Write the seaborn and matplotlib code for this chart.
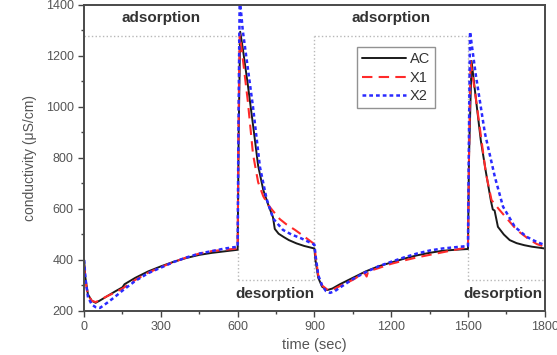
import matplotlib
matplotlib.use("Agg")
import matplotlib.pyplot as plt
from matplotlib.ticker import MultipleLocator
import seaborn as sns
import pandas as pd

# data (time in sec, conductivity in uS/cm)
t_ac = [0, 5, 15, 30, 45, 60, 90, 120, 150, 158, 200, 250, 300, 350, 400, 450, 500, 550, 600,
        604, 610, 620, 640, 660, 680, 700, 720, 738, 745, 760, 780, 800, 830, 860, 900,
        904, 915, 930, 950, 970, 1000, 1050, 1100, 1150, 1200, 1250, 1300, 1350, 1400, 1450, 1500,
        1504, 1514, 1530, 1550, 1570, 1590, 1597, 1604, 1617, 1640, 1663, 1690, 1720, 1750, 1780, 1800]
ac = [400, 330, 265, 240, 232, 240, 258, 276, 293, 305, 330, 355, 375, 393, 408, 420, 428, 434, 440,
      900, 1295, 1230, 1085, 930, 770, 675, 615, 568, 522, 503, 490, 478, 465, 455, 445,
      400, 330, 295, 282, 288, 305, 330, 355, 375, 390, 405, 418, 428, 436, 440, 443,
      800, 1180, 1040, 870, 745, 630, 598, 594, 530, 500, 478, 466, 458, 452, 448, 445]

t_x1 = [0, 5, 15, 30, 45, 60, 90, 120, 150, 200, 250, 300, 350, 400, 450, 500, 550, 600,
        603, 608, 620, 640, 660, 680, 700, 720, 740, 765, 790, 824, 860, 900,
        904, 915, 930, 955, 975, 1000, 1050, 1095, 1104, 1110, 1150, 1200, 1250, 1300, 1350, 1400, 1450, 1500,
        1504, 1510, 1530, 1550, 1570, 1592, 1620, 1650, 1680, 1703, 1740, 1770, 1800]
x1 = [380, 320, 262, 240, 235, 242, 258, 272, 288, 322, 350, 372, 392, 410, 425, 435, 440, 445,
      900, 1285, 1190, 1020, 815, 705, 650, 615, 590, 560, 540, 518, 492, 462,
      420, 340, 300, 280, 285, 298, 322, 350, 335, 355, 368, 385, 398, 410, 420, 430, 440, 450,
      800, 1180, 1040, 890, 740, 635, 600, 565, 530, 508, 480, 462, 452]

t_x2 = [0, 5, 15, 30, 45, 62, 90, 120, 150, 200, 250, 300, 350, 400, 450, 500, 550, 600,
        603, 608, 620, 640, 660, 687, 713, 739, 777, 810, 848, 900,
        904, 915, 930, 945, 961, 980, 1000, 1050, 1100, 1150, 1200, 1250, 1300, 1350, 1400, 1450, 1500,
        1503, 1508, 1530, 1566, 1605, 1637, 1683, 1729, 1770, 1800]
x2 = [400, 330, 255, 225, 215, 212, 232, 255, 280, 318, 348, 370, 392, 410, 425, 435, 445, 452,
      900, 1430, 1300, 1150, 1000, 765, 640, 562, 518, 500, 485, 460,
      420, 340, 300, 278, 271, 278, 292, 325, 352, 375, 393, 410, 425, 437, 445, 450, 455,
      800, 1295, 1130, 898, 726, 609, 530, 491, 470, 459]

# dotted guide boxes marking the adsorption / desorption steps
ads_windows = [(0, 600), (900, 1500)]
des_windows = [(600, 900), (1500, 1800)]
box_top = 1280
box_bottom = 320

sns.set_style("ticks")
plt.rcParams['font.family'] = ['Liberation Sans', 'DejaVu Sans']

df = pd.concat([
    pd.DataFrame({'time': t_ac, 'cond': ac, 'sample': 'AC'}),
    pd.DataFrame({'time': t_x1, 'cond': x1, 'sample': 'X1'}),
    pd.DataFrame({'time': t_x2, 'cond': x2, 'sample': 'X2'}),
])

fig = plt.figure(figsize=(5.57, 3.55), dpi=100)
ax = fig.add_axes([0.151, 0.124, 0.827, 0.862])

grey = '#b8b8b8'
for a, b in ads_windows:
    ax.plot([a, b], [box_top, box_top], ls=':', color=grey, lw=1)
for a, b in des_windows:
    ax.plot([a, b], [box_bottom, box_bottom], ls=':', color=grey, lw=1)
for x in [600, 900, 1500]:
    ax.plot([x, x], [box_bottom, box_top], ls=':', color=grey, lw=1)

styles = {'AC': dict(color='#1a1a1a', ls='-', lw=1.4),
          'X1': dict(color='#ff2a2a', ls=(0, (5, 3)), lw=1.5),
          'X2': dict(color='#2a2aff', ls=(0, (1.5, 1.2)), lw=1.8)}
for name, sub in df.groupby('sample', sort=False):
    st = styles[name]
    sns.lineplot(data=sub, x='time', y='cond', ax=ax, color=st['color'],
                 linestyle=st['ls'], linewidth=st['lw'], label=name, estimator=None, sort=False)

ax.set_xlim(0, 1800)
ax.set_ylim(200, 1400)
ax.xaxis.set_major_locator(MultipleLocator(300))
ax.xaxis.set_minor_locator(MultipleLocator(150))
ax.yaxis.set_major_locator(MultipleLocator(200))
ax.yaxis.set_minor_locator(MultipleLocator(100))
ax.tick_params(which='both', direction='out', top=False, right=False, colors='#444444')
ax.tick_params(which='major', length=4, width=1, labelsize=9, labelcolor='#555555')
ax.tick_params(which='minor', length=2.5, width=1)
for sp in ax.spines.values():
    sp.set_color('#4a4a4a')
    sp.set_linewidth(1.4)

ax.set_xlabel('time (sec)', fontsize=10.5, color='#555555', labelpad=3)
ax.set_ylabel('conductivity (μS/cm)', fontsize=10, color='#555555', labelpad=6)

txt = dict(fontsize=11, fontweight='bold', color='#333333', ha='center', va='center')
ax.text(300, 1347, 'adsorption', **txt)
ax.text(1200, 1347, 'adsorption', **txt)
ax.text(746, 268, 'desorption', **txt)
ax.text(1636, 268, 'desorption', **txt)

leg = ax.legend(loc='upper left', bbox_to_anchor=(0.592, 0.862), frameon=True, fancybox=False,
                fontsize=10.5, handlelength=3.0, handletextpad=0.3, borderpad=0.35,
                labelspacing=0.3, borderaxespad=0)
leg.get_frame().set_edgecolor('#777777')
leg.get_frame().set_linewidth(1)
for t in leg.get_texts():
    t.set_color('#333333')

fig.savefig('out.png', dpi=100)
